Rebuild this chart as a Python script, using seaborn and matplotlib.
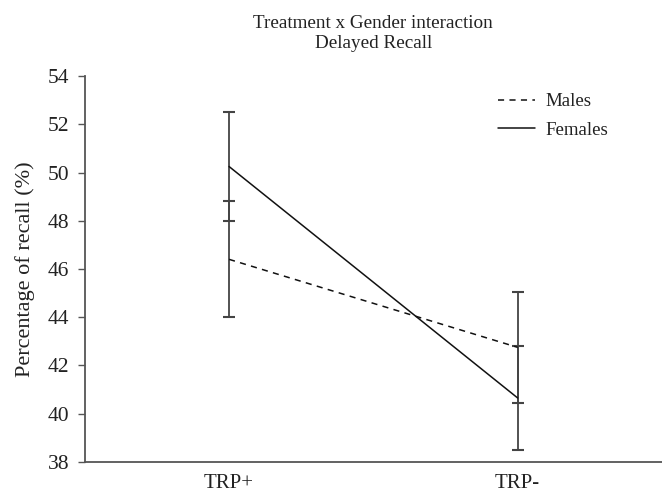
import matplotlib
matplotlib.use("Agg")
import matplotlib.pyplot as plt
import seaborn as sns
import pandas as pd

treatments = ["TRP+", "TRP-"]
males_mean = [46.4, 42.75]
males_err = [2.4, 2.3]
females_mean = [50.25, 40.65]
females_err = [2.25, 2.15]

df = pd.DataFrame({
    "Treatment": treatments * 2,
    "Recall": males_mean + females_mean,
    "Gender": ["Males"] * 2 + ["Females"] * 2,
})

sns.set_style("ticks")
plt.rcParams["font.family"] = ["Liberation Serif", "DejaVu Serif"]

fig = plt.figure(figsize=(6.62, 4.94), dpi=100)
ax = fig.add_axes([0.128, 0.065, 0.872, 0.781])

# error bars
for means, errs in [(males_mean, males_err), (females_mean, females_err)]:
    ax.errorbar(treatments, means, yerr=errs, fmt="none", ecolor="#444444",
                elinewidth=1.3, capsize=4, capthick=1.5, zorder=1)

sns.lineplot(data=df, x="Treatment", y="Recall", style="Gender",
             style_order=["Males", "Females"],
             dashes={"Males": (4, 3.5), "Females": ""},
             color="#111111", linewidth=1.1, ax=ax, sort=False, zorder=2)

ax.set_xlim(-0.5, 1.5)
ax.set_ylim(38, 54)
ax.set_yticks(range(38, 55, 2))
ax.set_xlabel("")
ax.set_ylabel("Percentage of recall (%)", fontsize=16, labelpad=9, color="#222222")
ax.tick_params(axis="y", length=5, width=1, colors="#555555", labelcolor="#222222", labelsize=15.5, pad=6)
ax.tick_params(axis="x", length=0, labelsize=15, labelcolor="#222222", pad=9)
for s in ["top", "right"]:
    ax.spines[s].set_visible(False)
for s in ["left", "bottom"]:
    ax.spines[s].set_color("#555555")
    ax.spines[s].set_linewidth(1.3)

ax.set_title("Treatment x Gender interaction\nDelayed Recall", fontsize=13.8,
             color="#222222", pad=20, linespacing=1.25)

leg = ax.legend(loc="upper right", bbox_to_anchor=(0.936, 1.0), frameon=False,
                fontsize=13.6, handlelength=1.95, handletextpad=0.55, labelspacing=0.6,
                title=None)
for t in leg.get_texts():
    t.set_color("#222222")

fig.savefig("out.png", dpi=100)
